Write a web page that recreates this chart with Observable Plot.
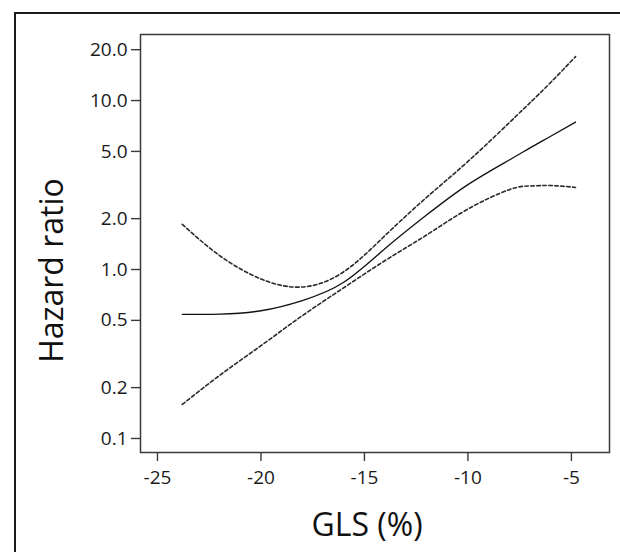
<!DOCTYPE html>
<html>
<head>
<meta charset="utf-8">
<script src="https://cdn.jsdelivr.net/npm/d3@7"></script>
<script src="https://cdn.jsdelivr.net/npm/@observablehq/plot@0.6"></script>
<style>
  html, body { margin: 0; padding: 0; background: #fff; overflow: hidden; width: 620px; height: 552px; }
  #wrap { position: relative; width: 620px; height: 552px; }
  #border { position: absolute; left: 14px; top: 12px; width: 700px; height: 700px; border: 2px solid #1a1a1a; box-sizing: border-box; }
  #chart { position: absolute; left: 0; top: 0; }
</style>
</head>
<body>
<div id="wrap"><div id="border"></div><div id="chart"></div></div>
<script>
// GLS (%) positions along the fitted curve
const gls = [-23.8, -22, -20, -18, -16, -14, -12, -10, -8, -7, -6, -4.8];
// Hazard ratio estimate (solid)
const hr = [0.542, 0.545, 0.57, 0.655, 0.84, 1.33, 2.10, 3.18, 4.45, 5.25, 6.15, 7.46];
// Upper 95% CI (dashed)
const upper = [1.85, 1.21, 0.879, 0.788, 0.97, 1.59, 2.67, 4.36, 7.4, 9.7, 12.8, 18.2];
// Lower 95% CI (dashed)
const lower = [0.159, 0.236, 0.354, 0.533, 0.78, 1.13, 1.60, 2.28, 2.97, 3.12, 3.14, 3.06];

const yTicks = [0.1, 0.2, 0.5, 1, 2, 5, 10, 20];
const yTickLabels = ["0.1", "0.2", "0.5", "1.0", "2.0", "5.0", "10.0", "20.0"];
const xTicks = [-25, -20, -15, -10, -5];
const xTickLabels = ["-25", "-20", "-15", "-10", "-5"];
const xTitle = "GLS (%)";
const yTitle = "Hazard ratio";

const rows = gls.map((g, i) => ({gls: g, hr: hr[i], upper: upper[i], lower: lower[i]}));
const yTickRows = yTicks.map((v, i) => ({v, label: yTickLabels[i]}));
const xTickRows = xTicks.map((v, i) => ({v, label: xTickLabels[i]}));

const font = "'Open Sans', sans-serif";
const axisColor = "#3a3a3a";

const chart = Plot.plot({
  width: 620,
  height: 552,
  marginLeft: 140,
  marginRight: 11,
  marginTop: 34,
  marginBottom: 100,
  style: {fontFamily: font, background: "transparent", color: "#1a1a1a"},
  x: {domain: [-25.82, -3.16]},
  y: {type: "log", domain: [0.0826, 24.6]},
  marks: [
    Plot.axisY({ticks: yTicks, tickSize: 9, tickFormat: () => "", label: null, stroke: axisColor, strokeWidth: 1.4}),
    Plot.axisX({ticks: xTicks, tickSize: 9, tickFormat: () => "", label: null, stroke: axisColor, strokeWidth: 1.4}),
    Plot.text(yTickRows, {y: "v", text: "label", frameAnchor: "left", textAnchor: "end", dx: -13, fontSize: 19, fill: "#1a1a1a"}),
    Plot.text(xTickRows, {x: "v", text: "label", frameAnchor: "bottom", textAnchor: "middle", lineAnchor: "top", dy: 18, fontSize: 19, fill: "#1a1a1a"}),
    Plot.frame({stroke: axisColor, strokeWidth: 1.5}),
    Plot.line(rows, {x: "gls", y: "upper", curve: "natural", stroke: "#2a2a2a", strokeWidth: 1.6, strokeDasharray: "3.5,2.5"}),
    Plot.line(rows, {x: "gls", y: "lower", curve: "natural", stroke: "#2a2a2a", strokeWidth: 1.6, strokeDasharray: "3.5,2.5"}),
    Plot.line(rows, {x: "gls", y: "hr", curve: "natural", stroke: "#111", strokeWidth: 1.3}),
    Plot.text([xTitle], {frameAnchor: "bottom", dx: -8, dy: 73, fontSize: 32, fill: "#111", textAnchor: "middle", lineAnchor: "middle"}),
    Plot.text([yTitle], {frameAnchor: "left", dx: -88, dy: 27, rotate: -90, fontSize: 32, fill: "#111", textAnchor: "middle", lineAnchor: "middle"})
  ]
});
document.getElementById("chart").appendChild(chart);
</script>
</body>
</html>
